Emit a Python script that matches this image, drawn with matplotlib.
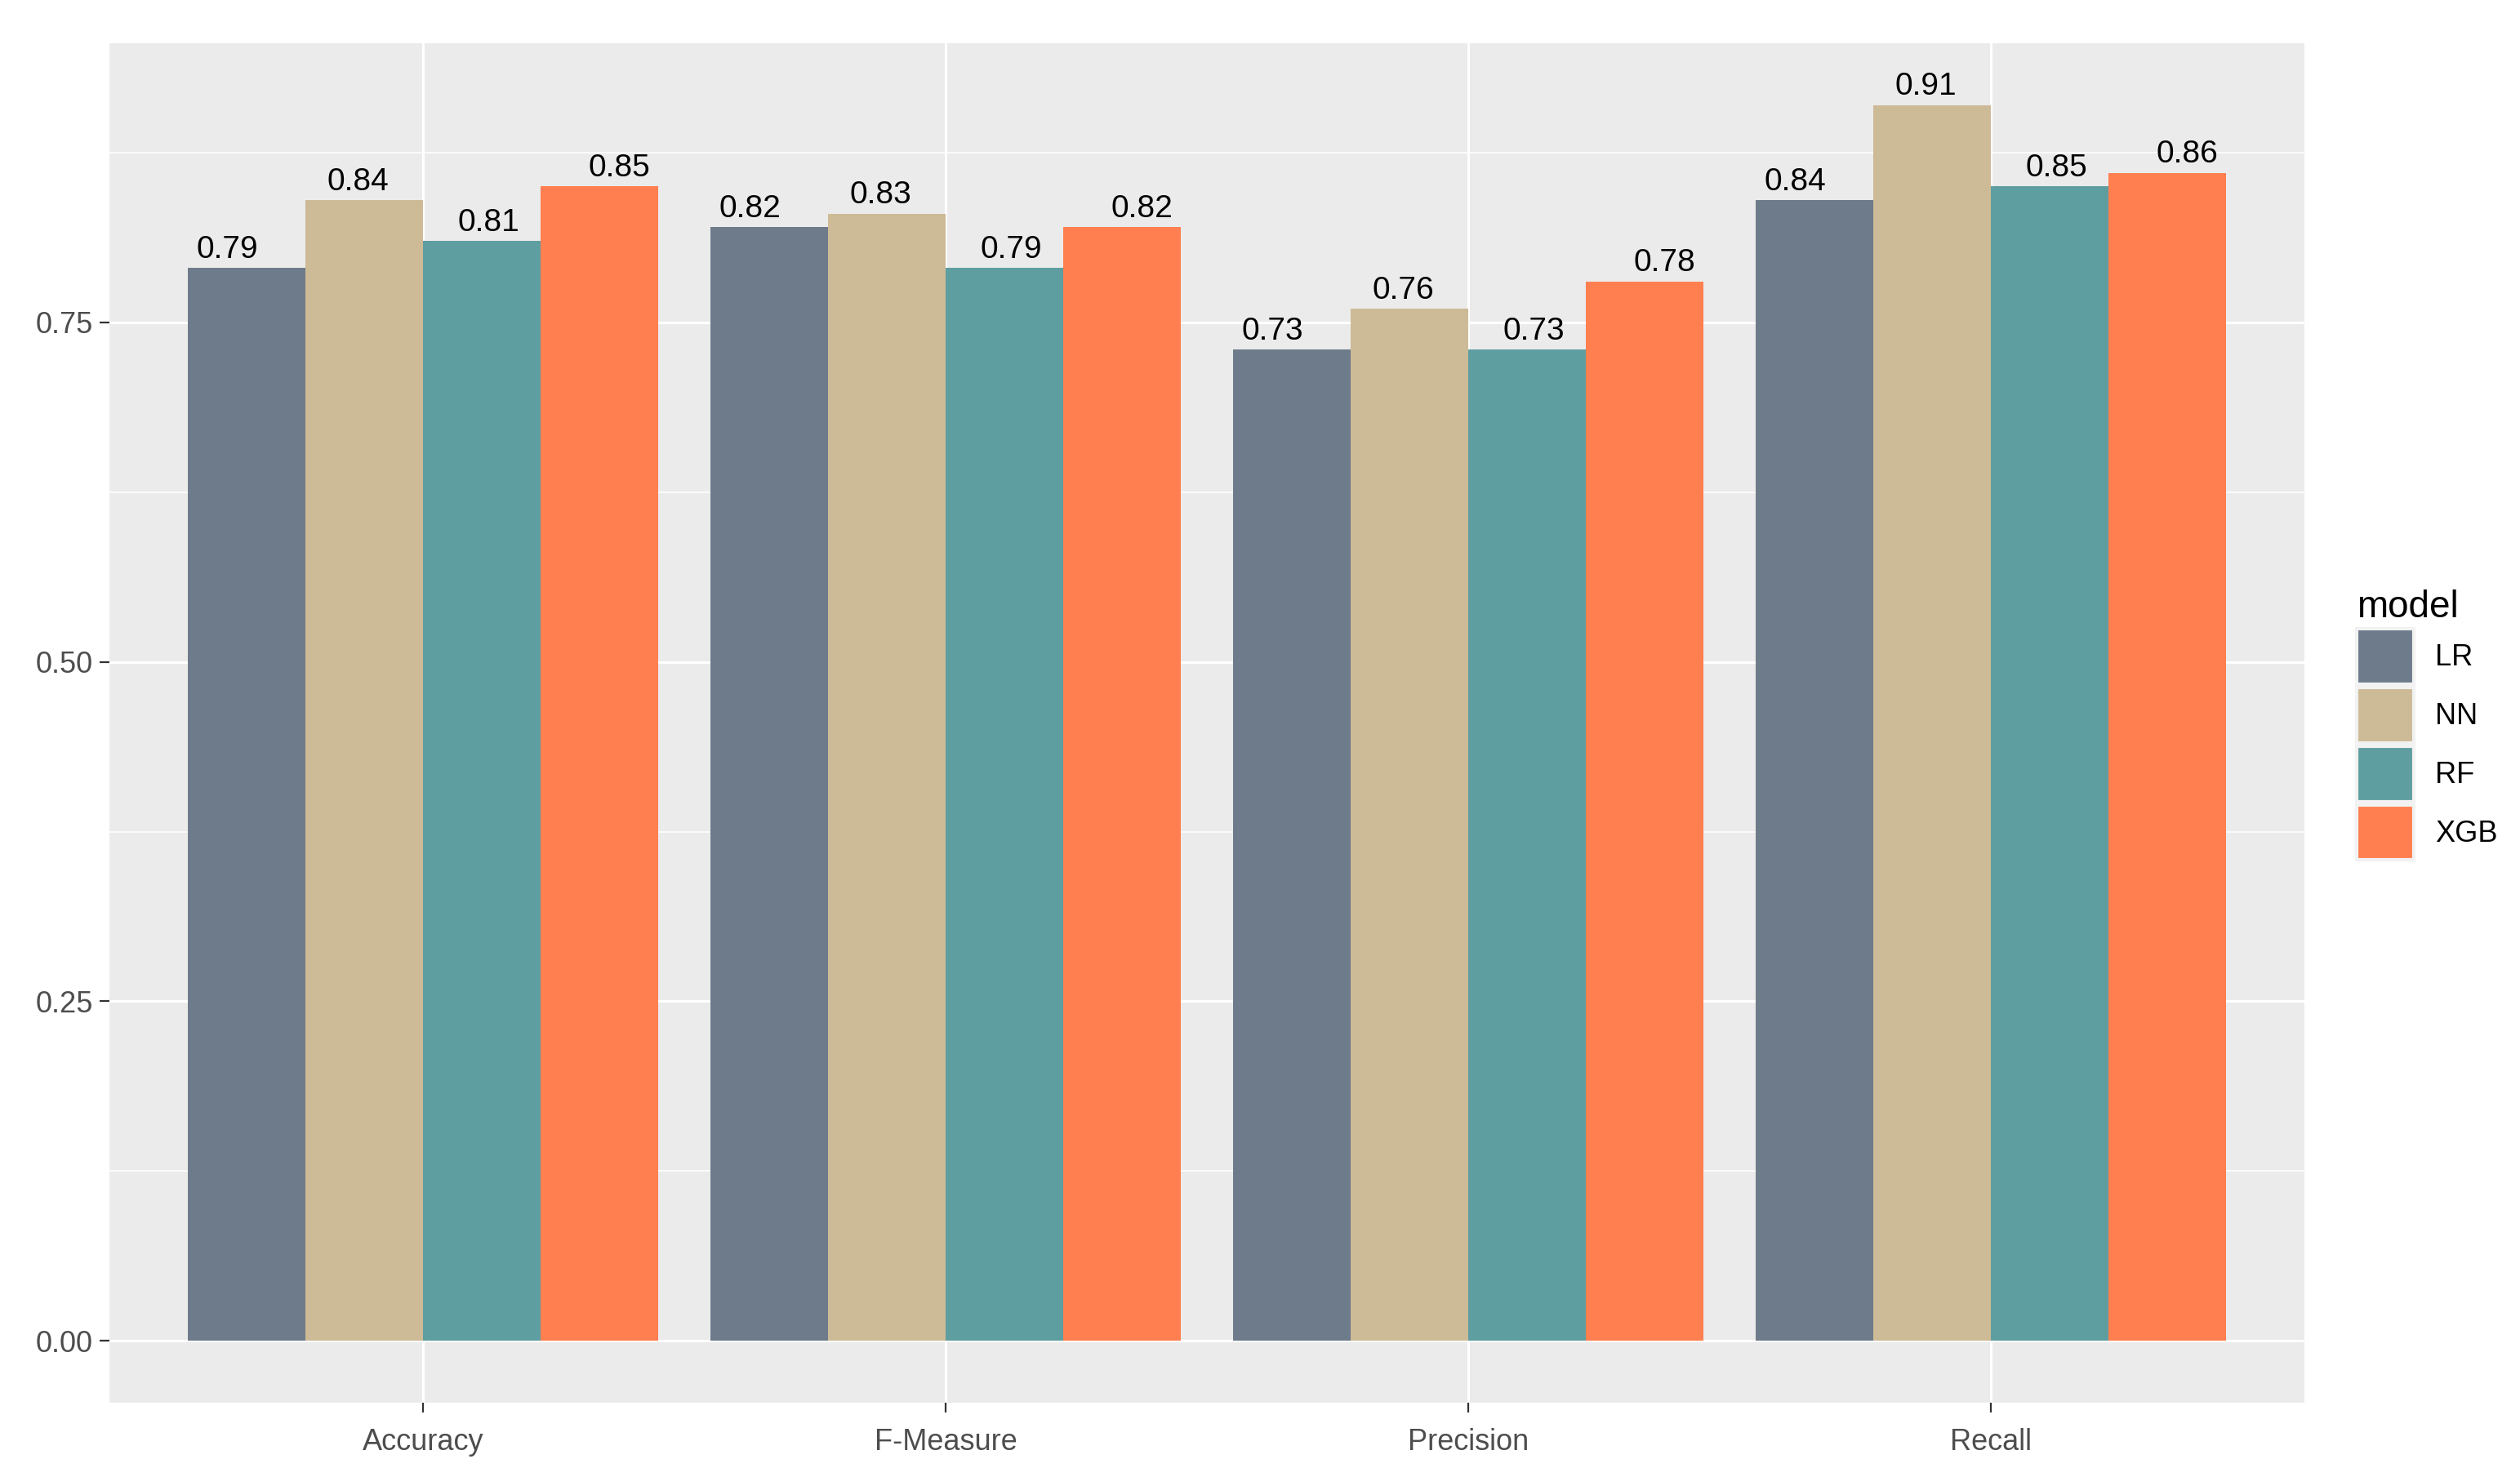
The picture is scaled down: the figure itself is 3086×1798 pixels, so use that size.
import matplotlib
matplotlib.use("Agg")
import matplotlib.pyplot as plt
import numpy as np
from matplotlib.patches import Patch

# dados
metricas = ["Accuracy", "F-Measure", "Precision", "Recall"]
modelos = ["LR", "NN", "RF", "XGB"]
lr = [0.79, 0.82, 0.73, 0.84]
nn = [0.84, 0.83, 0.76, 0.91]
rf = [0.81, 0.79, 0.73, 0.85]
xgb = [0.85, 0.82, 0.78, 0.86]
cores = ["#6E7B8B", "#CDBA96", "#5F9EA0", "#FF7F50"]

plt.rcParams["font.family"] = ["Liberation Sans", "DejaVu Sans"]

W, H = 3086, 1798
fig = plt.figure(figsize=(W / 100, H / 100), dpi=100)
ax = fig.add_axes([134 / W, (H - 1718) / H, (2822 - 134) / W, (1718 - 53) / H])
ax.set_facecolor("#EBEBEB")

x = np.arange(1, len(metricas) + 1)
largura = 0.9 / 4
series = [lr, nn, rf, xgb]

for i, (nome, valores) in enumerate(zip(modelos, series)):
    desloc = (i - 1.5) * largura
    ax.bar(x + desloc, valores, width=largura, color=cores[i], label=nome, zorder=3)
    # rotulos com dodge de largura 1
    desloc_txt = (i - 1.5) * 0.25
    for xi, v in zip(x, valores):
        ax.annotate(f"{v:.2f}", (xi + desloc_txt, v), xytext=(0, 9), textcoords="offset points",
                    ha="center", va="baseline", fontsize=28, color="black", zorder=4)

ymax = max(max(s) for s in series)
ax.set_ylim(-0.05 * ymax, ymax * 1.05)
ax.set_xlim(0.4, 4.6)

ax.set_yticks([0, 0.25, 0.5, 0.75])
ax.set_yticklabels(["0.00", "0.25", "0.50", "0.75"])
ax.set_yticks([0.125, 0.375, 0.625, 0.875], minor=True)
ax.set_xticks(x)
ax.set_xticklabels(metricas)

ax.grid(which="major", color="white", linewidth=2.2, zorder=0)
ax.grid(which="minor", axis="y", color="white", linewidth=1.1, zorder=0)
ax.set_axisbelow(True)
for s in ax.spines.values():
    s.set_visible(False)

ax.tick_params(which="major", length=8.5, width=1.6, color="#333333", labelsize=26,
               labelcolor="#4D4D4D", pad=6)
ax.tick_params(which="minor", length=0)
ax.tick_params(axis="x", pad=14)

handles = [Patch(facecolor=c, edgecolor="#F2F2F2", linewidth=3) for c in cores]
leg = fig.legend(handles, modelos, loc="upper left", bbox_to_anchor=(2886 / W, 1 - 722 / H),
                 frameon=False, fontsize=26, title="model", title_fontsize=33,
                 alignment="left", handlelength=1.95, handleheight=2.5,
                 labelspacing=0.12, handletextpad=0.7, borderpad=0, borderaxespad=0)

fig.savefig("out.png", dpi=100, facecolor="white")
